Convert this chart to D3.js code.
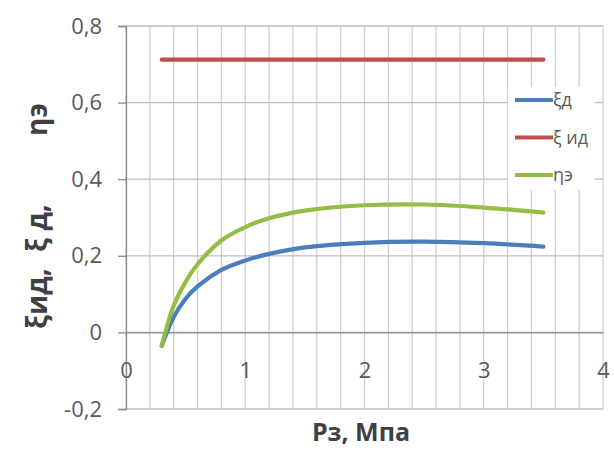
<!DOCTYPE html>
<html>
<head>
<meta charset="utf-8">
<script src="https://cdn.jsdelivr.net/npm/d3@7"></script>
<style>
    body { margin: 0; background: #fff; }
    text { font-family: "Open Sans", "Noto Sans", sans-serif; }
</style>
</head>
<body>
<div id="chart"></div>
<script>
// data
let pressure = [0.3, 0.4, 0.5, 0.6, 0.8, 1.0, 1.2, 1.5, 2.0, 2.5, 3.0, 3.5];
let xiD = [-0.035, 0.04, 0.088, 0.12, 0.163, 0.188, 0.205, 0.222, 0.234, 0.237, 0.233, 0.224];
let xiID = [0.712, 0.712, 0.712, 0.712, 0.712, 0.712, 0.712, 0.712, 0.712, 0.712, 0.712, 0.712];
let etaE = [-0.035, 0.07, 0.132, 0.178, 0.24, 0.275, 0.298, 0.318, 0.332, 0.334, 0.326, 0.313];
let xTicks = [0, 1, 2, 3, 4];
let yTicks = [-0.2, 0, 0.2, 0.4, 0.6, 0.8];
let seriesNames = ["ξд", "ξ ид", "ηэ"];
let seriesColors = ["#4a7ebb", "#c0504d", "#93bd45"];

let width = 614, height = 450;
let svg = d3.select("#chart").append("svg")
    .attr("width", width)
    .attr("height", height);

let xScale = d3.scaleLinear().domain([0, 4]).range([126, 603]);
let yScale = d3.scaleLinear().domain([-0.2, 0.8]).range([409, 26]);

let comma = d => String(d).replace(".", ",");

// vertical minor gridlines every 0.2
let xGrid = d3.range(0, 4.0001, 0.2);
svg.append("g").selectAll("line")
    .data(xGrid).enter().append("line")
    .attr("x1", d => xScale(d)).attr("x2", d => xScale(d))
    .attr("y1", yScale(0.8)).attr("y2", yScale(-0.2))
    .attr("stroke", "#cfcfcf").attr("stroke-width", 1.3);

// horizontal gridlines
svg.append("g").selectAll("line")
    .data(yTicks).enter().append("line")
    .attr("x1", xScale(0)).attr("x2", xScale(4))
    .attr("y1", d => yScale(d)).attr("y2", d => yScale(d))
    .attr("stroke", "#bdbdbd").attr("stroke-width", 1.3);

// y axis
let yAxis = svg.append("g")
    .attr("transform", "translate(" + xScale(0) + ",0)")
    .call(d3.axisLeft(yScale).tickValues(yTicks).tickSize(8).tickPadding(16).tickFormat(comma));
yAxis.select(".domain").attr("stroke", "#8a8a8a").attr("stroke-width", 1.3);
yAxis.selectAll(".tick line").attr("stroke", "#8a8a8a").attr("stroke-width", 1.3);
yAxis.selectAll("text").attr("fill", "#595959").style("font-size", "22px")
    .attr("font-family", "'Open Sans', sans-serif");

// x axis along y = 0, labels below
let xAxis = svg.append("g")
    .attr("transform", "translate(0," + yScale(0) + ")")
    .call(d3.axisBottom(xScale).tickValues(xTicks).tickSize(0).tickPadding(30).tickFormat(d => d));
xAxis.select(".domain").attr("stroke", "#8a8a8a").attr("stroke-width", 1.3);
xAxis.selectAll("text").attr("fill", "#595959").style("font-size", "22px")
    .attr("font-family", "'Open Sans', sans-serif");

// lines
let line = d3.line()
    .x((d, i) => xScale(pressure[i]))
    .y(d => yScale(d))
    .curve(d3.curveCatmullRom.alpha(0.5));

let series = [xiD, xiID, etaE];
svg.append("g").selectAll("path")
    .data(series).enter().append("path")
    .attr("d", d => line(d))
    .attr("fill", "none")
    .attr("stroke", (d, i) => seriesColors[i])
    .attr("stroke-width", 4.2)
    .attr("stroke-linecap", "round");

// legend
let legend = svg.append("g");
legend.append("rect")
    .attr("x", 508).attr("y", 87).attr("width", 87).attr("height", 103)
    .attr("fill", "#fff");
let items = legend.selectAll("g.item")
    .data(seriesNames).enter().append("g")
    .attr("class", "item")
    .attr("transform", (d, i) => "translate(515," + (100 + i * 37.5) + ")");
items.append("line")
    .attr("x1", 0).attr("x2", 38)
    .attr("stroke", (d, i) => seriesColors[i])
    .attr("stroke-width", 4.2);
items.append("text")
    .attr("x", 38).attr("dy", "0.35em")
    .attr("fill", "#595959")
    .style("font-size", "18px")
    .text(d => d);

// axis titles
svg.append("text")
    .attr("x", 361).attr("y", 441)
    .attr("text-anchor", "middle")
    .attr("fill", "#404040")
    .style("font-size", "25px").style("font-weight", "bold")
    .text("Рз, Мпа");

let yTitle = svg.append("g").attr("transform", "translate(47,0) rotate(-90)");
let yTitleParts = [["ξид,", 329], ["ξ д,", 252], ["ηэ", 136]];
yTitle.selectAll("text")
    .data(yTitleParts).enter().append("text")
    .attr("x", d => -d[1]).attr("y", 0)
    .attr("fill", "#404040")
    .style("font-size", "28px").style("font-weight", "bold")
    .text(d => d[0]);
</script>
</body>
</html>
